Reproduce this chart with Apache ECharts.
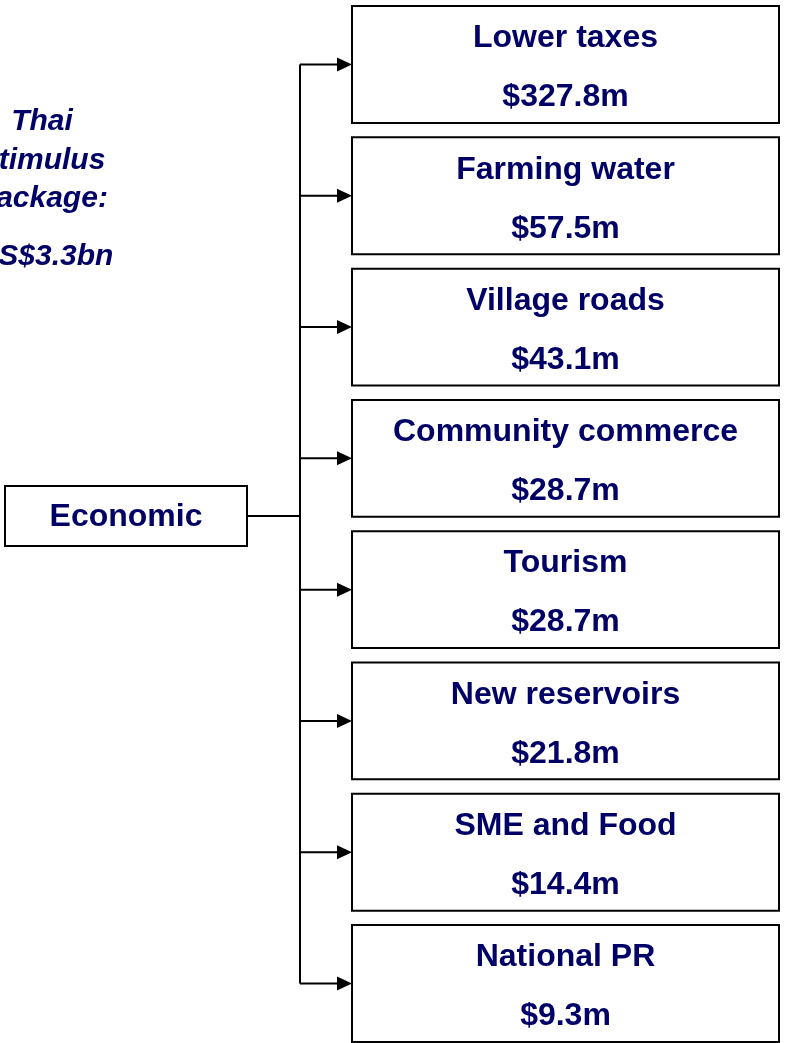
<!DOCTYPE html>
<html>
<head>
<meta charset="utf-8">
<title>Thai stimulus package</title>
<script src="https://cdn.jsdelivr.net/npm/echarts@6/dist/echarts.min.js"></script>
<style>
  html, body { margin: 0; padding: 0; background: #fff; }
</style>
</head>
<body>
<div id="main" style="width: 786px;height:1043px;"></div>
<script type="text/javascript">
    // data
    var rootName = 'Economic';
    var categories = ['Lower taxes', 'Farming water', 'Village roads', 'Community commerce',
                      'Tourism', 'New reservoirs', 'SME and Food', 'National PR'];
    var amounts = [327.8, 57.5, 43.1, 28.7, 28.7, 21.8, 14.4, 9.3];
    var titleLines = ['Thai', 'Stimulus', 'Package:'];
    var totalLabel = 'US$3.3bn';

    var NAVY = '#000066';
    var FONT = '"Liberation Sans", Arial, Helvetica, sans-serif';

    var myChart = echarts.init(document.getElementById('main'));

    function fmt(v) {
        return '$' + v.toFixed(1) + 'm';
    }

    // one box per category, placed by the y axis
    function renderBox(params, api) {
        var idx = api.value(0);
        var c = api.coord([0, idx]);
        var h = api.size([0, 0.89])[1];
        var left = api.coord([352, 0])[0];
        var right = api.coord([779, 0])[0];
        var trunk = api.coord([300, 0])[0];
        var cy = c[1];
        var top = cy - h / 2;
        return {
            type: 'group',
            children: [
                {
                    type: 'rect',
                    shape: { x: left, y: top, width: right - left, height: h },
                    style: { fill: '#fff', stroke: '#000', lineWidth: 2 }
                },
                {
                    type: 'line',
                    shape: { x1: trunk, y1: cy, x2: left - 12, y2: cy },
                    style: { stroke: '#000', lineWidth: 2 }
                },
                {
                    type: 'polygon',
                    shape: { points: [[left - 15, cy - 7], [left, cy], [left - 15, cy + 7]] },
                    style: { fill: '#000' }
                },
                {
                    type: 'text',
                    style: {
                        text: categories[idx], x: (left + right) / 2, y: cy - 26,
                        align: 'center', verticalAlign: 'middle',
                        fontSize: 32, fontWeight: 'bold', fontFamily: FONT, fill: NAVY
                    }
                },
                {
                    type: 'text',
                    style: {
                        text: fmt(api.value(1)), x: (left + right) / 2, y: cy + 33,
                        align: 'center', verticalAlign: 'middle',
                        fontSize: 32, fontWeight: 'bold', fontFamily: FONT, fill: NAVY
                    }
                }
            ]
        };
    }

    // root box and the vertical trunk
    function renderRoot(params, api) {
        var n = categories.length;
        var first = api.coord([300, 0]);
        var last = api.coord([300, n - 1]);
        var mid = api.coord([0, api.value(0)]);
        var l = api.coord([5, 0])[0];
        var r = api.coord([247, 0])[0];
        var cy = mid[1];
        return {
            type: 'group',
            children: [
                {
                    type: 'line',
                    shape: { x1: first[0], y1: first[1], x2: last[0], y2: last[1] },
                    style: { stroke: '#000', lineWidth: 2 }
                },
                {
                    type: 'line',
                    shape: { x1: r, y1: cy, x2: first[0], y2: cy },
                    style: { stroke: '#000', lineWidth: 2 }
                },
                {
                    type: 'rect',
                    shape: { x: l, y: cy - 30, width: r - l, height: 60 },
                    style: { fill: '#fff', stroke: '#000', lineWidth: 2 }
                },
                {
                    type: 'text',
                    style: {
                        text: rootName, x: (l + r) / 2, y: cy + 1,
                        align: 'center', verticalAlign: 'middle',
                        fontSize: 32, fontWeight: 'bold', fontFamily: FONT, fill: NAVY
                    }
                }
            ]
        };
    }

    var boxData = categories.map(function (c, i) { return [i, amounts[i]]; });

    var titleText = [];
    var ty = [122, 161, 199];
    for (var i = 0; i < titleLines.length; i++) {
        titleText.push({
            type: 'text', x: 42, y: ty[i],
            style: {
                text: titleLines[i], align: 'center', verticalAlign: 'middle',
                fontSize: 30, fontWeight: 'bold', fontStyle: 'italic', fontFamily: FONT, fill: NAVY
            }
        });
    }
    titleText.push({
        type: 'text', x: 45, y: 257,
        style: {
            text: totalLabel, align: 'center', verticalAlign: 'middle',
            fontSize: 30, fontWeight: 'bold', fontStyle: 'italic', fontFamily: FONT, fill: NAVY
        }
    });

    var option = {
        animation: false,
        backgroundColor: '#fff',
        grid: { left: 0, right: 0, top: 0, bottom: 0 },
        xAxis: { type: 'value', min: 0, max: 786, show: false },
        yAxis: { type: 'value', min: -0.491, max: 7.453, inverse: true, show: false },
        graphic: titleText,
        series: [
            {
                type: 'custom',
                renderItem: renderRoot,
                data: [[3.44]],
                silent: true,
                clip: false
            },
            {
                type: 'custom',
                renderItem: renderBox,
                data: boxData,
                silent: true,
                clip: false
            }
        ]
    };

    myChart.setOption(option);
</script>
</body>
</html>
